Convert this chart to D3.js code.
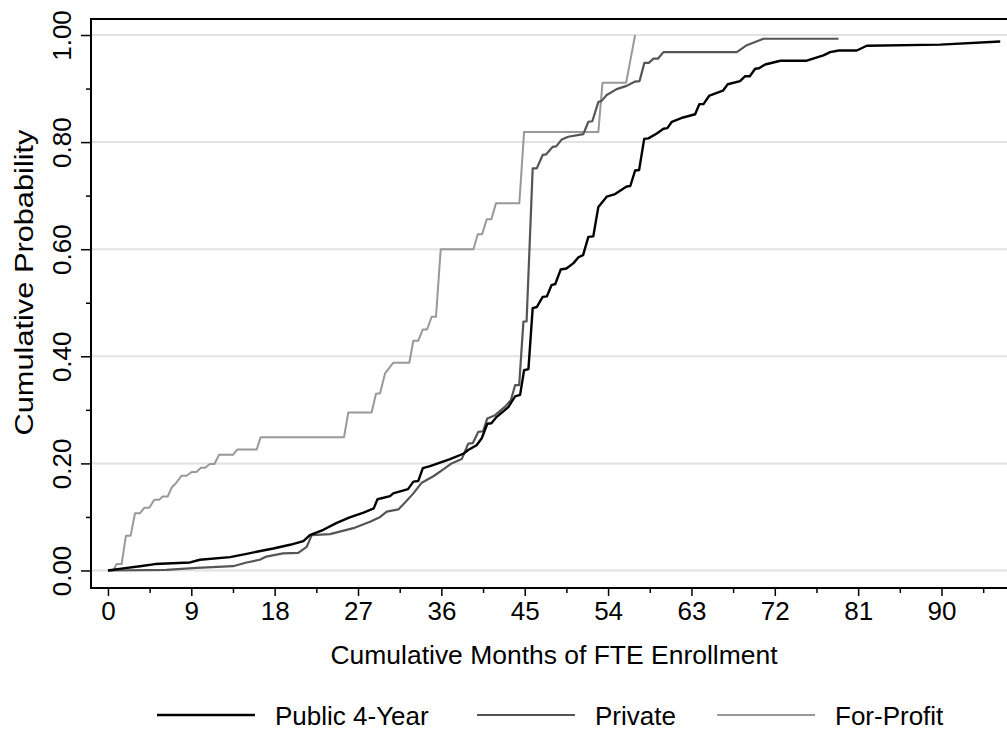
<!DOCTYPE html>
<html>
<head>
<meta charset="utf-8">
<script src="https://cdn.jsdelivr.net/npm/d3@7"></script>
<style>
  html, body { margin: 0; padding: 0; background: #fff; }
  svg { display: block; font-family: "Liberation Sans", Arial, Helvetica, sans-serif; }
</style>
</head>
<body>
<svg id="chart" width="1007" height="730"></svg>
<script>
// Cumulative distribution of months of full-time-equivalent enrollment by sector
const months = {};
const probs = {};

months.public = [0, 1.65, 3.46, 5.08, 8.86, 9.94, 13.18, 14.97, 16.05, 17.85, 19.66, 21.1, 21.8, 23.26, 24.7, 26.1, 27.6, 28.7, 29.1, 30.46, 30.8, 32.4, 32.98, 33.5, 34.0, 34.78, 36.94, 38.37, 38.9, 39.8, 40.36, 40.96, 41.4, 41.98, 43.23, 43.96, 44.5, 44.93, 45.4, 45.86, 46.3, 46.94, 47.4, 47.9, 48.3, 48.88, 49.5, 50.27, 50.8, 51.3, 51.87, 52.4, 52.95, 53.85, 54.76, 56.0, 56.4, 56.92, 57.35, 57.9, 58.35, 59.26, 59.98, 60.4, 60.88, 62.1, 63.4, 63.86, 64.3, 64.94, 66.4, 66.92, 68.25, 68.8, 69.3, 69.88, 70.3, 70.96, 72.6, 75.45, 77.25, 77.97, 78.9, 80.85, 81.93, 89.86, 96.34];
probs.public = [0, 0.004, 0.008, 0.012, 0.015, 0.02, 0.025, 0.031, 0.035, 0.041, 0.048, 0.055, 0.066, 0.076, 0.089, 0.099, 0.108, 0.116, 0.133, 0.139, 0.144, 0.152, 0.166, 0.167, 0.191, 0.195, 0.208, 0.218, 0.225, 0.234, 0.247, 0.274, 0.275, 0.287, 0.305, 0.325, 0.328, 0.374, 0.376, 0.49, 0.492, 0.511, 0.512, 0.533, 0.535, 0.562, 0.564, 0.574, 0.585, 0.589, 0.623, 0.624, 0.679, 0.698, 0.703, 0.717, 0.718, 0.747, 0.748, 0.806, 0.807, 0.816, 0.825, 0.826, 0.838, 0.846, 0.852, 0.871, 0.871, 0.887, 0.896, 0.908, 0.914, 0.923, 0.923, 0.937, 0.938, 0.945, 0.952, 0.952, 0.962, 0.968, 0.971, 0.971, 0.98, 0.982, 0.988];

months.private = [0, 6.3, 9.6, 13.5, 14.97, 16.4, 17.1, 18.9, 20.55, 21.46, 22.0, 23.98, 26.5, 28.3, 29.4, 30.1, 31.35, 32.08, 32.98, 33.88, 35.14, 36.4, 37.1, 38.2, 38.9, 39.4, 39.99, 40.5, 40.96, 41.8, 42.88, 43.5, 43.96, 44.4, 44.86, 45.2, 45.86, 46.3, 46.94, 47.3, 48.0, 48.4, 49.0, 49.7, 51.33, 51.87, 52.3, 52.95, 53.3, 53.85, 54.93, 56.0, 56.92, 57.4, 57.92, 58.4, 58.9, 59.4, 59.98, 67.9, 68.98, 70.78, 78.88];
probs.private = [0, 0.001, 0.005, 0.008, 0.015, 0.02, 0.026, 0.032, 0.033, 0.044, 0.066, 0.068, 0.079, 0.091, 0.10, 0.11, 0.114, 0.127, 0.144, 0.164, 0.176, 0.191, 0.2, 0.208, 0.237, 0.238, 0.259, 0.26, 0.284, 0.29, 0.306, 0.318, 0.346, 0.346, 0.465, 0.465, 0.751, 0.751, 0.776, 0.777, 0.791, 0.792, 0.805, 0.81, 0.815, 0.838, 0.839, 0.875, 0.877, 0.888, 0.899, 0.905, 0.913, 0.914, 0.948, 0.948, 0.956, 0.956, 0.968, 0.968, 0.981, 0.993, 0.993];

months.forprofit = [0, 0.57, 0.94, 1.48, 1.94, 2.45, 2.92, 3.46, 3.92, 4.46, 5.0, 5.54, 5.9, 6.45, 6.88, 7.34, 7.96, 8.5, 9.04, 9.55, 10.04, 10.5, 11.0, 11.5, 12.0, 13.5, 13.97, 16.06, 16.49, 25.49, 25.95, 28.47, 28.94, 29.38, 29.92, 30.81, 32.54, 32.97, 33.5, 33.98, 34.45, 34.96, 35.42, 35.93, 39.46, 39.93, 40.4, 40.9, 41.4, 41.9, 44.42, 44.93, 52.95, 53.4, 55.95, 56.92];
probs.forprofit = [0, 0, 0.012, 0.012, 0.065, 0.065, 0.107, 0.107, 0.117, 0.117, 0.132, 0.132, 0.138, 0.138, 0.155, 0.163, 0.177, 0.177, 0.184, 0.184, 0.192, 0.192, 0.199, 0.199, 0.216, 0.216, 0.226, 0.226, 0.249, 0.249, 0.295, 0.295, 0.33, 0.331, 0.368, 0.388, 0.388, 0.429, 0.429, 0.45, 0.45, 0.474, 0.474, 0.60, 0.60, 0.628, 0.628, 0.656, 0.656, 0.686, 0.686, 0.819, 0.819, 0.911, 0.911, 1.0];

const seriesKeys = ["public", "private", "forprofit"];
const seriesNames = ["Public 4-Year", "Private", "For-Profit"];
const seriesColors = ["#000000", "#555555", "#999999"];
const seriesWidths = [2.4, 2.2, 2.0];

const xTicks = [0, 9, 18, 27, 36, 45, 54, 63, 72, 81, 90];
const xMinorTicks = [4.5, 13.5, 22.5, 31.5, 40.5, 49.5, 58.5, 67.5, 76.5, 85.5, 94.5];
const yTicks = [0, 0.2, 0.4, 0.6, 0.8, 1.0];
const yMinorTicks = [0.1, 0.3, 0.5, 0.7, 0.9];

const xTitle = "Cumulative Months of FTE Enrollment";
const yTitle = "Cumulative Probability";

const svg = d3.select("#chart");
const plotLeft = 91, plotRight = 1008, plotTop = 19, plotBottom = 588;
const fontSize = 26;

const x = d3.scaleLinear().domain([-1.83, 97.18]).range([plotLeft, plotRight]);
const y = d3.scaleLinear().domain([-0.0327, 1.0299]).range([plotBottom, plotTop]);

// horizontal gridlines at the labelled ticks
svg.append("g").selectAll("line").data(yTicks).join("line")
  .attr("x1", plotLeft).attr("x2", plotRight)
  .attr("y1", d => y(d)).attr("y2", d => y(d))
  .attr("stroke", "#e2e2e2").attr("stroke-width", 2);

// series
const line = d3.line().x(d => x(d[0])).y(d => y(d[1]));
seriesKeys.slice().reverse().forEach(key => {
  const i = seriesKeys.indexOf(key);
  const pts = d3.zip(months[key], probs[key]);
  svg.append("path").datum(pts)
    .attr("d", line)
    .attr("fill", "none")
    .attr("stroke", seriesColors[i])
    .attr("stroke-width", seriesWidths[i])
    .attr("stroke-linejoin", "round");
});

// plot frame
svg.append("path")
  .attr("d", `M${plotRight},${plotTop}H${plotLeft}V${plotBottom}H${plotRight}`)
  .attr("fill", "none").attr("stroke", "#000").attr("stroke-width", 2);

// x axis
const xAxis = svg.append("g").attr("transform", `translate(0,${plotBottom})`);
xAxis.call(d3.axisBottom(x).tickValues(xTicks).tickSize(8).tickPadding(6).tickFormat(d3.format("d")))
  .call(g => g.select(".domain").remove());
xAxis.selectAll(".tick line").attr("stroke-width", 1.5);
xAxis.selectAll(".tick text").attr("font-size", fontSize).attr("fill", "#000")
  .attr("font-family", "Liberation Sans, Arial, sans-serif");
svg.append("g").attr("transform", `translate(0,${plotBottom})`)
  .call(d3.axisBottom(x).tickValues(xMinorTicks).tickSize(5).tickFormat(""))
  .call(g => g.select(".domain").remove())
  .selectAll(".tick line").attr("stroke-width", 1.5);

// y axis
const yAxis = svg.append("g").attr("transform", `translate(${plotLeft},0)`);
yAxis.call(d3.axisLeft(y).tickValues(yTicks).tickSize(10).tickFormat(d3.format(".2f")))
  .call(g => g.select(".domain").remove());
yAxis.selectAll(".tick line").attr("stroke-width", 1.5);
yAxis.selectAll(".tick text")
  .attr("font-size", fontSize).attr("fill", "#000")
  .attr("font-family", "Liberation Sans, Arial, sans-serif")
  .attr("x", null).attr("dy", null)
  .attr("text-anchor", "middle")
  .attr("transform", "translate(-20,0) rotate(-90)");
svg.append("g").attr("transform", `translate(${plotLeft},0)`)
  .call(d3.axisLeft(y).tickValues(yMinorTicks).tickSize(5).tickFormat(""))
  .call(g => g.select(".domain").remove())
  .selectAll(".tick line").attr("stroke-width", 1.5);

// axis titles
svg.append("text")
  .attr("x", 554).attr("y", 664)
  .attr("text-anchor", "middle").attr("font-size", fontSize)
  .attr("textLength", 447).attr("lengthAdjust", "spacingAndGlyphs")
  .text(xTitle);
svg.append("text")
  .attr("transform", `translate(33,${(plotTop + plotBottom) / 2 - 21}) rotate(-90)`)
  .attr("text-anchor", "middle").attr("font-size", fontSize)
  .attr("textLength", 306).attr("lengthAdjust", "spacingAndGlyphs")
  .text(yTitle);

// legend
const legendX = [157, 477, 717];
const legend = svg.append("g");
seriesNames.forEach((name, i) => {
  legend.append("line")
    .attr("x1", legendX[i]).attr("x2", legendX[i] + 98)
    .attr("y1", 715).attr("y2", 715)
    .attr("stroke", seriesColors[i]).attr("stroke-width", seriesWidths[i]);
  legend.append("text")
    .attr("x", legendX[i] + 118).attr("y", 725)
    .attr("font-size", fontSize)
    .text(name);
});
</script>
</body>
</html>
